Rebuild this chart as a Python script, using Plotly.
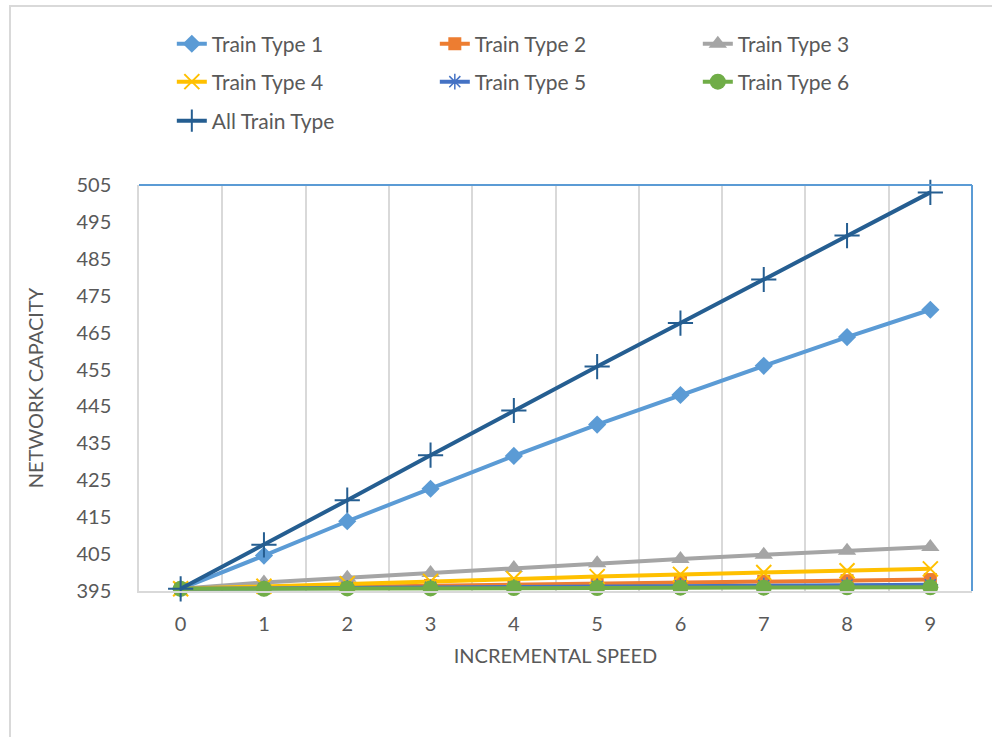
import plotly.graph_objects as go

# Incremental speed steps and network capacity per train type
speed = [0, 1, 2, 3, 4, 5, 6, 7, 8, 9]
train_type_1 = [395.6, 404.6, 413.9, 422.7, 431.6, 440.1, 448.1, 456.0, 463.8, 471.2]
train_type_2 = [395.6, 395.9, 396.2, 396.5, 396.8, 397.1, 397.4, 397.6, 397.8, 398.1]
train_type_3 = [395.6, 397.3, 398.6, 399.9, 401.2, 402.5, 403.7, 404.8, 405.9, 406.9]
train_type_4 = [395.6, 396.3, 397.0, 397.6, 398.3, 398.9, 399.5, 400.0, 400.5, 401.0]
train_type_5 = [395.6, 395.7, 395.9, 396.0, 396.1, 396.3, 396.4, 396.5, 396.6, 396.7]
train_type_6 = [395.6, 395.6, 395.7, 395.7, 395.8, 395.8, 395.9, 395.9, 396.0, 396.0]
all_train_type = [395.6, 407.5, 419.6, 431.8, 443.9, 455.8, 467.6, 479.4, 491.3, 503.0]

y_ticks = [395, 405, 415, 425, 435, 445, 455, 465, 475, 485, 495, 505]

TEXT = "#595959"
FONT = "Lato"

series = [
    ("Train Type 1", train_type_1, "#5B9BD5", dict(symbol="diamond", size=14), "legend"),
    ("Train Type 2", train_type_2, "#ED7D31", dict(symbol="square", size=13), "legend"),
    ("Train Type 3", train_type_3, "#A5A5A5", dict(symbol="triangle-up", size=16), "legend"),
    ("Train Type 4", train_type_4, "#FFC000", dict(symbol="x-thin-open", size=15, line=dict(width=2, color="#FFC000")), "legend2"),
    ("Train Type 5", train_type_5, "#4472C4", dict(symbol="asterisk-open", size=13, line=dict(width=1.5, color="#4472C4")), "legend2"),
    ("Train Type 6", train_type_6, "#70AD47", dict(symbol="circle", size=16), "legend2"),
    ("All Train Type", all_train_type, "#255E91", dict(symbol="cross-thin-open", size=18, line=dict(width=2, color="#255E91")), "legend3"),
]

fig = go.Figure()
for name, vals, color, marker, leg in series:
    m = dict(color=color)
    m.update(marker)
    fig.add_trace(go.Scatter(
        x=speed, y=vals, name=name, mode="lines+markers",
        line=dict(color=color, width=4), marker=m, legend=leg,
        cliponaxis=False,
    ))

legend_common = dict(
    orientation="h", xanchor="left", yanchor="middle",
    font=dict(family=FONT, size=21, color=TEXT),
    bgcolor="rgba(0,0,0,0)", borderwidth=0,
    entrywidth=218, entrywidthmode="pixels", itemwidth=30,
    traceorder="normal",
)

fig.update_layout(
    width=992, height=737,
    margin=dict(l=139, r=20, t=185, b=146),
    paper_bgcolor="white", plot_bgcolor="white",
    font=dict(family=FONT, size=21, color=TEXT),
    legend=dict(legend_common, x=0.0394, y=1.347),
    legend2=dict(legend_common, x=0.0394, y=1.2537),
    legend3=dict(legend_common, x=0.0394, y=1.1576),
    xaxis=dict(
        range=[-0.5, 9.5], tickmode="array", tickvals=speed,
        ticktext=[str(s) for s in speed], showgrid=False, zeroline=False,
        showline=True, linecolor="#D9D9D9", linewidth=1.5,
        ticks="", ticklabelstandoff=14,
        minor=dict(tickmode="linear", tick0=0.5, dtick=1, showgrid=True,
                   gridcolor="#D9D9D9", gridwidth=1.5, ticks=""),
        title=dict(text="INCREMENTAL SPEED", standoff=15,
                   font=dict(family=FONT, size=20, color=TEXT)),
        tickfont=dict(family=FONT, size=20, color=TEXT),
    ),
    yaxis=dict(
        range=[395, 505], tickmode="array", tickvals=y_ticks,
        showgrid=False, zeroline=False,
        showline=True, linecolor="#D9D9D9", linewidth=1.5,
        ticks="", ticklabelstandoff=22,
        title=dict(text="NETWORK CAPACITY", standoff=27,
                   font=dict(family=FONT, size=20, color=TEXT)),
        tickfont=dict(family=FONT, size=20, color=TEXT),
    ),
)

# Top and right edges of the plot area
fig.add_shape(type="line", xref="paper", yref="paper", x0=0, x1=1, y0=1, y1=1,
              line=dict(color="#5B9BD5", width=2))
fig.add_shape(type="line", xref="paper", yref="paper", x0=1, x1=1, y0=0, y1=1,
              line=dict(color="#5B9BD5", width=2))
# Outer chart frame
fig.add_shape(type="rect", xref="paper", yref="paper",
              x0=(10 - 139) / 833, x1=1.2, y0=(591 - 6) / 406, y1=-0.8,
              line=dict(color="#D9D9D9", width=2), layer="below")

fig.write_html("out.html")
